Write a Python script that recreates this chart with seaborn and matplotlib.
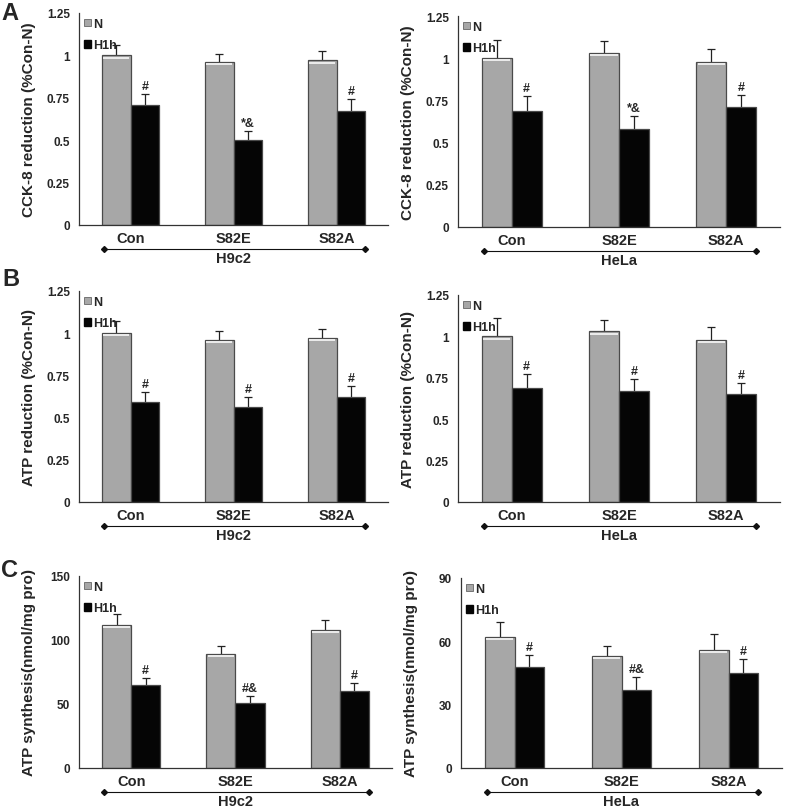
import numpy as np
import pandas as pd
import matplotlib
matplotlib.use("Agg")
import matplotlib.pyplot as plt
import matplotlib.transforms as mtransforms
from matplotlib.patches import Patch
import seaborn as sns

# ---------------- data ----------------
groups = ["Con", "S82E", "S82A"]
conditions = ["N", "H1h"]

# Panel A: CCK-8 reduction
a_h9c2_n = [1.00, 0.96, 0.97]
a_h9c2_n_err = [0.06, 0.05, 0.055]
a_h9c2_h = [0.71, 0.50, 0.67]
a_h9c2_h_err = [0.06, 0.055, 0.07]
a_h9c2_marks = ["#", "*&", "#"]

a_hela_n = [1.00, 1.03, 0.98]
a_hela_n_err = [0.11, 0.07, 0.075]
a_hela_h = [0.69, 0.58, 0.71]
a_hela_h_err = [0.085, 0.075, 0.07]
a_hela_marks = ["#", "*&", "#"]

# Panel B: ATP reduction
b_h9c2_n = [1.00, 0.96, 0.97]
b_h9c2_n_err = [0.07, 0.055, 0.055]
b_h9c2_h = [0.59, 0.56, 0.62]
b_h9c2_h_err = [0.06, 0.06, 0.065]
b_h9c2_marks = ["#", "#", "#"]

b_hela_n = [1.00, 1.03, 0.98]
b_hela_n_err = [0.11, 0.07, 0.075]
b_hela_h = [0.69, 0.67, 0.65]
b_hela_h_err = [0.085, 0.075, 0.07]
b_hela_marks = ["#", "#", "#"]

# Panel C: ATP synthesis
c_h9c2_n = [112, 89, 108]
c_h9c2_n_err = [8.5, 6, 7.5]
c_h9c2_h = [65, 51, 60]
c_h9c2_h_err = [5, 5, 6.5]
c_h9c2_marks = ["#", "#&", "#"]

c_hela_n = [62, 53, 56]
c_hela_n_err = [7.3, 4.6, 7.3]
c_hela_h = [48, 37, 45]
c_hela_h_err = [5.6, 6.2, 6.6]
c_hela_marks = ["#", "#&", "#"]

ylab_cck = "CCK-8 reduction (%Con-N)"
ylab_atp = "ATP reduction (%Con-N)"
ylab_syn = "ATP synthesis(nmol/mg pro)"

ticks_frac = [0, 0.25, 0.5, 0.75, 1, 1.25]
ticklabels_frac = ["0", "0.25", "0.5", "0.75", "1", "1.25"]
ticks_c_h9c2 = [0, 50, 100, 150]
ticks_c_hela = [0, 30, 60, 90]

# ---------------- style ----------------
sns.set_style("white")
plt.rcParams["font.family"] = ["Liberation Sans", "DejaVu Sans"]
plt.rcParams["font.weight"] = "bold"

GRAY = "#a7a7a7"
BLACK = "#050505"
W, H = 786, 812
fig = plt.figure(figsize=(W / 100, H / 100), dpi=100)


def px_axes(x0, x1, ytop, ybot):
    return fig.add_axes([x0 / W, 1 - ybot / H, (x1 - x0) / W, (ybot - ytop) / H])


def panel(box, n, n_err, h, h_err, marks, ylabel, cell, yticks, yticklabels):
    ax = px_axes(*box)
    df = pd.DataFrame({
        "group": groups * 2,
        "condition": [conditions[0]] * 3 + [conditions[1]] * 3,
        "value": list(n) + list(h),
    })
    sns.barplot(data=df, x="group", y="value", hue="condition",
                order=groups, hue_order=conditions,
                palette={"N": GRAY, "H1h": BLACK},
                width=0.56, gap=0, errorbar=None, edgecolor="#4a4a4a",
                linewidth=0.9, legend=False, ax=ax, zorder=2)
    errs = [n_err, h_err]
    hl = mtransforms.ScaledTranslation(0, -2.2 / 100, fig.dpi_scale_trans)
    for ci, cont in enumerate(ax.containers[:2]):
        xs = [b.get_x() + b.get_width() / 2 for b in cont]
        ys = [b.get_height() for b in cont]
        e = errs[ci]
        res = ax.errorbar(xs, ys, yerr=[np.zeros(len(e)), e], fmt="none",
                          ecolor="#222222", elinewidth=0.9, capsize=3.2,
                          capthick=0.9, zorder=1)
        res[1][0].set_visible(False)
        if ci == 0:
            # light highlight just under the top edge of the grey bars
            for b in cont:
                ax.plot([b.get_x() + 0.012, b.get_x() + b.get_width() - 0.012],
                        [b.get_height()] * 2, color="#f2f2f2", lw=1.3,
                        transform=ax.transData + hl, zorder=3,
                        solid_capstyle="butt")
        if ci == 1:
            for x, y, err, m in zip(xs, ys, e, marks):
                ax.annotate(m, xy=(x, y + err), xytext=(0, 1.5),
                            textcoords="offset points", ha="center",
                            va="bottom", fontsize=9, fontweight="bold")
    # axes styling
    ax.set_xlim(-0.5, 2.5)
    ax.set_ylim(yticks[0], yticks[-1])
    ax.set_yticks(yticks)
    ax.set_yticklabels(yticklabels, fontsize=8.5, fontweight="bold")
    ax.set_xticks([0, 1, 2])
    ax.set_xticklabels(groups, fontsize=10.5, fontweight="bold")
    ax.set_xticks([-0.5, 0.5, 1.5, 2.5], minor=True)
    ax.tick_params(axis="x", which="major", length=0, pad=4)
    ax.tick_params(axis="x", which="minor", length=4, width=0.8,
                   color="#333333", direction="out")
    ax.tick_params(axis="y", which="major", length=4, width=0.8,
                   color="#333333", direction="out", pad=2.5)
    for s in ["top", "right"]:
        ax.spines[s].set_visible(False)
    for s in ["left", "bottom"]:
        ax.spines[s].set_color("#333333")
        ax.spines[s].set_linewidth(0.9)
    ax.set_xlabel("")
    ax.set_ylabel(ylabel, fontsize=11, fontweight="bold")
    wpx = box[1] - box[0]
    ax.yaxis.set_label_coords(-43 / wpx, 0.5)
    # legend
    handles = [Patch(facecolor=GRAY, edgecolor="#666666", linewidth=0.6),
               Patch(facecolor=BLACK, edgecolor=BLACK)]
    ax.legend(handles, conditions, loc="upper left",
              bbox_to_anchor=(0.0, 1.0), frameon=False,
              prop={"weight": "bold", "size": 9},
              handlelength=0.55, handleheight=0.55, handletextpad=0.2,
              labelspacing=0.75, borderaxespad=0.3, borderpad=0.1)
    # bracket line + cell name below axis
    trans = ax.get_xaxis_transform() + mtransforms.ScaledTranslation(
        0, -24 / 100, fig.dpi_scale_trans)
    ax.plot([-0.26, 2.28], [0, 0], color="#111111", lw=0.8, marker="D",
            ms=3, transform=trans, clip_on=False)
    ax.annotate(cell, xy=(1, 0), xycoords=ax.get_xaxis_transform(),
                xytext=(0, -24), textcoords="offset points",
                ha="center", va="center", fontsize=10.5, fontweight="bold")
    return ax


panel((79, 388, 14, 226), a_h9c2_n, a_h9c2_n_err, a_h9c2_h, a_h9c2_h_err,
      a_h9c2_marks, ylab_cck, "H9c2", ticks_frac, ticklabels_frac)
panel((458, 780, 17, 228), a_hela_n, a_hela_n_err, a_hela_h, a_hela_h_err,
      a_hela_marks, ylab_cck, "HeLa", ticks_frac, ticklabels_frac)
panel((79, 388, 292, 503), b_h9c2_n, b_h9c2_n_err, b_h9c2_h, b_h9c2_h_err,
      b_h9c2_marks, ylab_atp, "H9c2", ticks_frac, ticklabels_frac)
panel((458, 780, 296, 503), b_hela_n, b_hela_n_err, b_hela_h, b_hela_h_err,
      b_hela_marks, ylab_atp, "HeLa", ticks_frac, ticklabels_frac)
panel((79, 392, 577, 769), c_h9c2_n, c_h9c2_n_err, c_h9c2_h, c_h9c2_h_err,
      c_h9c2_marks, ylab_syn, "H9c2", ticks_c_h9c2,
      [str(t) for t in ticks_c_h9c2])
panel((461, 782, 579, 769), c_hela_n, c_hela_n_err, c_hela_h, c_hela_h_err,
      c_hela_marks, ylab_syn, "HeLa", ticks_c_hela,
      [str(t) for t in ticks_c_hela])

for letter, (x, y) in zip(["A", "B", "C"], [(10, 13), (11, 279), (10, 571)]):
    fig.text(x / W, 1 - y / H, letter, fontsize=17, fontweight="bold",
             ha="center", va="center")

fig.savefig("out.png", dpi=100)
